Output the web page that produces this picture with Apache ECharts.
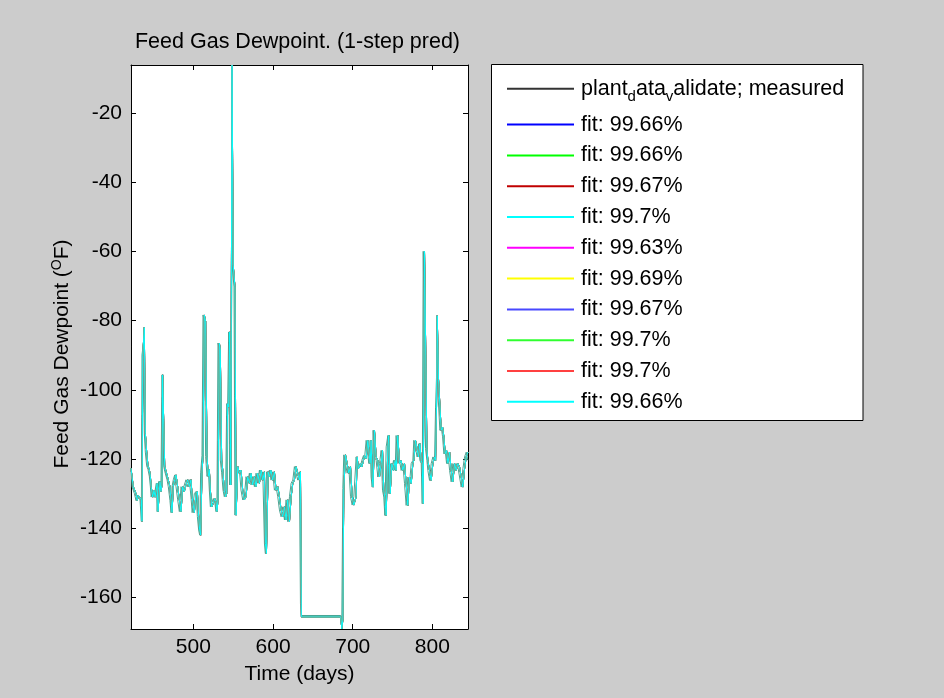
<!DOCTYPE html>
<html>
<head>
<meta charset="utf-8">
<script src="https://cdn.jsdelivr.net/npm/echarts@6/dist/echarts.min.js"></script>
<style>
  html, body { margin: 0; padding: 0; background: #cccccc; }
  #chart { width: 944px; height: 698px; }
</style>
</head>
<body>
<div id="chart"></div>
<script>
// Sample times (days)
const days = [
  421.7,423,424.6,426,428,429.5,431,433,434.7,435.5,
  436.5,438.4,439.7,441.4,443,444.7,446,447,449,450.5,
  452,453.5,454.5,455.6,456.4,458.1,459.3,460.6,461.4,462.7,
  464,465.6,466.9,468.5,470.6,471.9,473.2,474.8,476.5,478.2,
  480.3,482.4,484.5,486.5,488.6,490.7,492.8,494.9,497,498.5,
  501.2,503.3,505,506.6,507.9,509.1,510.8,512.1,513.7,515.4,
  517.1,518.8,520,521.3,523,525,526.7,528.4,529.6,530.9,
  532.6,533.8,535.5,537.2,538.8,540.5,541.8,543,544.3,545.5,
  547,548.5,550,551,552.2,553.6,555.7,557.8,559.8,561.9,
  564,566.1,568.2,570.3,572.4,574.5,576.6,578.7,580.8,582.9,
  585,587.1,589.2,590.4,591.7,593.8,595.4,597.5,599.6,601.7,
  603.8,605.9,608,610.1,612.2,614.3,616.4,618.5,620.6,622.7,
  624.8,626.8,628.9,631,633.1,634.4,635.6,685,686.3,687.6,
  688.8,690.9,693,695.1,697.2,699.3,701.4,704.3,705.5,707.2,
  709.7,711.4,713.5,714.8,716.9,719,720.2,721.9,723.1,724.4,
  725.6,727.3,729.4,731.5,733.6,735.7,737.4,739,740.3,742,
  744.1,745.3,747,749.1,751.2,753.3,754.5,756.6,758.7,760.8,
  762.9,765,767.1,769.2,771.3,773.4,775.5,776.7,778.8,780.9,
  782.6,784.3,786,787.2,788.5,790.1,791.4,793.1,794.3,796.4,
  798.5,800.6,802.7,804,805.2,806.1,807.7,809.4,811.1,812.8,
  814.4,816.1,817.8,819.5,821.6,823.6,825.7,827.8,829.9,832,
  834.1,836.2,838.3,840.4,842.5,844.6
];

// Measured dewpoint (°F)
const measured = [
  -122.7,-128,-128.5,-130,-132,-130.5,-130,-131.8,-138,-90,
  -88,-112.6,-118,-122,-123,-125,-128,-131,-129,-131,
  -131,-127,-135.2,-135,-126.5,-129.4,-127.5,-95.7,-108.7,-122,
  -123.5,-123.5,-126,-128,-132,-135.5,-128,-126,-124.6,-128,
  -131.8,-135.2,-128,-129.4,-127.5,-126,-128,-126,-131,-135.5,
  -130,-129.4,-136.6,-140.5,-142,-124,-119,-78.4,-80.3,-119.3,
  -125,-123,-129,-133.8,-132.8,-131.4,-132.3,-135.2,-131.8,-86.5,
  -88.5,-120.3,-124,-129,-130.9,-130,-104,-105,-83.3,-127.5,
  -104,-64,-64,-70.3,-136.2,-122.2,-124.1,-123.2,-129,-131.8,
  -130.9,-125.1,-127,-124.1,-127.5,-125.1,-128,-124.1,-127,-123.2,
  -126.1,-123.7,-144.4,-147.3,-123.7,-125.1,-123.2,-126.1,-123.7,-129,
  -128,-130.9,-134.7,-136.7,-133.8,-137.6,-131.8,-138.1,-130.9,-127,
  -126.1,-122.2,-124.1,-126.1,-123.7,-161.7,-165.2,-165.2,-166.5,-128.5,
  -118.8,-121.3,-124.1,-122.2,-130.9,-133.3,-130.9,-119.4,-122.8,-121.3,
  -122.3,-120.4,-119,-119.9,-114.6,-114.1,-121.3,-114.6,-125.2,-128.1,
  -111.7,-119.4,-120.4,-125.2,-121.3,-117.5,-129,-131,-136.3,-116.5,
  -113.2,-130,-121.3,-123.3,-120.4,-123.3,-113.2,-121.3,-120.4,-123.3,
  -121.3,-127.1,-133.4,-125.2,-127.1,-121.3,-120.4,-114.6,-114.6,-119.4,
  -115.6,-120.4,-121.3,-132.9,-60,-59.8,-117,-120.4,-123.3,-126.2,
  -121.3,-119.4,-120.4,-105,-96.3,-97,-97.3,-111.7,-110.8,-113.6,
  -118.5,-117.5,-121.3,-118,-123.3,-126.6,-121.3,-123.3,-121.3,-122.3,
  -125.2,-128.1,-122.8,-119.4,-118,-120.4
];

// One-step-ahead model prediction (°F)
const predicted = [
  -122.7,-122.7,-128,-128.5,-130,-132,-130.5,-130,-131.8,-138,
  -90,-82,-112.6,-118,-122,-123,-125,-128,-131,-129,
  -131,-131,-127,-135.2,-135,-126.5,-129.4,-127.5,-95.7,-108.7,
  -122,-123.5,-123.5,-126,-128,-132,-135.5,-128,-126,-124.6,
  -128,-131.8,-135.2,-128,-129.4,-127.5,-126,-128,-126,-131,
  -135.5,-130,-129.4,-136.6,-140.5,-142,-124,-119,-78.4,-80.3,
  -119.3,-125,-123,-129,-133.8,-132.8,-131.4,-132.3,-135.2,-131.8,
  -86.5,-88.5,-120.3,-124,-129,-130.9,-130,-104,-105,-83.3,
  -127.5,-6.2,-64,-64,-70.3,-136.2,-122.2,-124.1,-123.2,-129,
  -131.8,-130.9,-125.1,-127,-124.1,-127.5,-125.1,-128,-124.1,-127,
  -123.2,-126.1,-123.7,-144.4,-147.3,-123.7,-125.1,-123.2,-126.1,-123.7,
  -129,-128,-130.9,-134.7,-136.7,-133.8,-137.6,-131.8,-138.1,-130.9,
  -127,-126.1,-122.2,-124.1,-126.1,-123.7,-165.6,-165.6,-169.1,-166.5,
  -128.5,-118.8,-121.3,-124.1,-122.2,-130.9,-133.3,-130.9,-119.4,-122.8,
  -121.3,-122.3,-120.4,-119,-119.9,-114.6,-114.1,-121.3,-114.6,-125.2,
  -128.1,-111.7,-119.4,-120.4,-125.2,-121.3,-117.5,-129,-131,-136.3,
  -116.5,-113.2,-130,-121.3,-123.3,-120.4,-123.3,-113.2,-121.3,-120.4,
  -123.3,-121.3,-127.1,-133.4,-125.2,-127.1,-121.3,-120.4,-114.6,-114.6,
  -119.4,-115.6,-120.4,-121.3,-132.9,-60,-59.8,-117,-120.4,-123.3,
  -126.2,-121.3,-119.4,-120.4,-105,-78.6,-97,-97.3,-111.7,-110.8,
  -113.6,-118.5,-117.5,-121.3,-118,-123.3,-126.6,-121.3,-123.3,-121.3,
  -122.3,-125.2,-128.1,-122.8,-119.4,-118
];

// Legend entries for the fitted models
const fitLabels = [
  'fit: 99.66%', 'fit: 99.66%', 'fit: 99.67%', 'fit: 99.7%', 'fit: 99.63%',
  'fit: 99.69%', 'fit: 99.67%', 'fit: 99.7%', 'fit: 99.7%', 'fit: 99.66%'
];
const fitColors = [
  '#0000ff', '#00ff00', '#c00000', '#00ffff', '#ff00ff',
  '#ffff00', '#4848ff', '#30ff30', '#ff4040', '#00ffff'
];

// Axis ranges and tick positions
const xRange = [421.7, 844.7];
const yRange = [-169.1, -6.2];
const xTicks = [500, 600, 700, 800];
const yTicks = [-160, -140, -120, -100, -80, -60, -40, -20];

const FONT = '"Liberation Sans", Arial, Helvetica, sans-serif';
const measuredLineColor = '#48a594';
const measuredLegendColor = '#333333';

function pairs(values) {
  return days.map((d, i) => [d, values[i]]);
}

const chart = echarts.init(document.getElementById('chart'), null, { renderer: 'canvas' });

const axisLine = { show: true, onZero: false, lineStyle: { color: '#000', width: 1 } };
const tickStyle = { color: '#000', width: 1 };

const series = [{
  name: 'measured',
  type: 'line',
  data: pairs(measured),
  symbol: 'none',
  lineStyle: { color: measuredLineColor, width: 1 },
  itemStyle: { color: measuredLineColor },
  z: 2
}];
fitLabels.forEach((lbl, k) => {
  series.push({
    name: 'fit' + k,
    type: 'line',
    data: pairs(predicted),
    symbol: 'none',
    lineStyle: { color: fitColors[k], width: 1 },
    itemStyle: { color: fitColors[k] },
    z: 2
  });
});

// legend swatches are plain lines (symbol hidden)
const legendData = [{
  name: 'measured',
  lineStyle: { color: measuredLegendColor },
  itemStyle: { color: measuredLegendColor, opacity: 0 }
}].concat(fitLabels.map((_, k) => ({ name: 'fit' + k })));

chart.setOption({
  animation: false,
  backgroundColor: '#cccccc',
  textStyle: { fontFamily: FONT },
  title: {
    text: 'Feed Gas Dewpoint. (1-step pred)',
    left: 297.5,
    top: 31,
    textAlign: 'center',
    padding: 0,
    textStyle: { fontSize: 21.5, fontWeight: 'normal', color: '#000', fontFamily: FONT }
  },
  graphic: {
    elements: [{
      type: 'rect',
      z: 1,
      shape: { x: 491.5, y: 64.5, width: 371.5, height: 356 },
      style: { fill: '#ffffff', stroke: '#000000', lineWidth: 1 }
    }]
  },
  legend: {
    orient: 'vertical',
    left: 506,
    top: 72.8,
    padding: 0,
    z: 5,
    itemGap: 8.8,
    itemWidth: 67,
    itemHeight: 14,
    selectedMode: false,
    itemStyle: { opacity: 0 },
    data: legendData,
    formatter: function (name) {
      if (name === 'measured') {
        return '{a|plant}{s|d}{a|ata}{s|v}{a|alidate; measured}';
      }
      return fitLabels[Number(name.slice(3))];
    },
    textStyle: {
      fontSize: 21.5,
      lineHeight: 21,
      color: '#000',
      fontFamily: FONT,
      padding: [0, 0, 0, 2],
      rich: {
        a: { fontSize: 21.5, lineHeight: 21, color: '#000', fontFamily: FONT },
        s: { fontSize: 15, lineHeight: 14, color: '#000', fontFamily: FONT, padding: [17, 0, 0, 0] }
      }
    }
  },
  grid: {
    left: 131, right: 476, top: 65, bottom: 69,
    show: true, backgroundColor: '#ffffff', borderWidth: 0
  },
  xAxis: [{
    type: 'value',
    position: 'bottom',
    min: xRange[0], max: xRange[1],
    axisLine: axisLine,
    splitLine: { show: false },
    axisTick: { show: true, inside: true, length: 5, lineStyle: tickStyle, customValues: xTicks },
    axisLabel: { color: '#000', fontSize: 21, fontFamily: FONT, margin: 8, customValues: xTicks },
    name: 'Time (days)',
    nameLocation: 'middle',
    nameGap: 35,
    nameTextStyle: { color: '#000', fontSize: 21, fontFamily: FONT }
  }, {
    type: 'value',
    position: 'top',
    min: xRange[0], max: xRange[1],
    axisLine: axisLine,
    splitLine: { show: false },
    axisTick: { show: true, inside: true, length: 5, lineStyle: tickStyle, customValues: xTicks },
    axisLabel: { show: false, customValues: xTicks }
  }],
  yAxis: [{
    type: 'value',
    position: 'left',
    min: yRange[0], max: yRange[1],
    axisLine: axisLine,
    splitLine: { show: false },
    axisTick: { show: true, inside: true, length: 5, lineStyle: tickStyle, customValues: yTicks },
    axisLabel: { color: '#000', fontSize: 21, fontFamily: FONT, margin: 9, customValues: yTicks },
    name: 'Feed Gas Dewpoint ({sup|O}F)',
    nameLocation: 'middle',
    nameGap: 57,
    nameTextStyle: {
      color: '#000', fontSize: 21, fontFamily: FONT,
      padding: [0, 14, 0, 0],
      rich: { sup: { fontSize: 14, color: '#000', fontFamily: FONT, padding: [0, 0, 10, 0] } }
    }
  }, {
    type: 'value',
    position: 'right',
    min: yRange[0], max: yRange[1],
    axisLine: axisLine,
    splitLine: { show: false },
    axisTick: { show: true, inside: true, length: 5, lineStyle: tickStyle, customValues: yTicks },
    axisLabel: { show: false, customValues: yTicks }
  }],
  series: series
});
</script>
</body>
</html>
